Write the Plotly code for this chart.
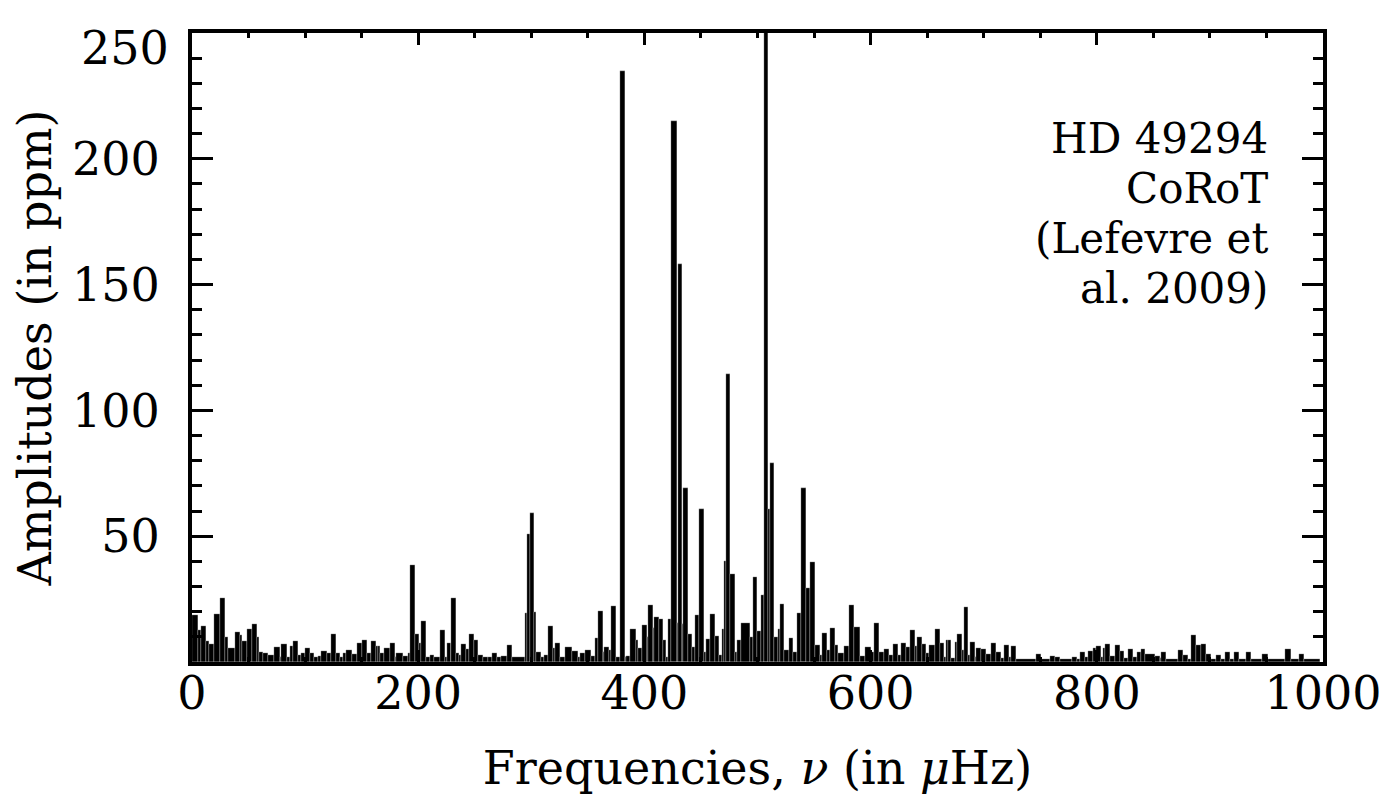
import numpy as np
import plotly.graph_objects as go

# Lower edge of each frequency bin (muHz) and amplitude in that bin (ppm)
freq_lo = [
    0.0, 5.3, 8.3, 12.7, 14.7, 19.5, 25.0, 29.5, 31.8, 37.7, 42.1, 44.5, 48.6, 53.1, 57.5, 59.0,
    62.8, 67.2, 72.5, 77.5, 79.0, 84.0, 86.3, 89.3, 93.7, 96.7, 99.6, 104.6, 107.6, 111.4, 114.3,
    119.7, 123.2, 127.6, 130.6, 133.5, 136.5, 141.8, 146.2, 150.6, 155.0, 158.0, 162.4,
    164.5, 166.0, 169.8, 174.8, 179.2, 180.7, 186.6, 191.0, 193.1, 197.5, 200.5, 202.2, 206.6,
    210.2, 214.0, 219.6, 224.0, 225.5, 228.7, 229.3, 233.8, 235.8, 238.2, 242.6, 245.0, 249.4,
    252.9, 257.3, 261.8, 265.3, 269.7, 273.5, 278.8, 283.3, 294.2, 296.2, 298.6, 302.4, 304.5,
    308.9, 311.0, 314.8, 319.2, 320.7, 325.1, 329.5,
    335.9, 341.2, 342.7, 347.1, 352.4, 356.6, 358.9, 363.3, 364.2, 368.4, 370.7, 375.1, 378.7,
    382.5, 384.0, 387.5, 392.8, 394.3, 397.8, 402.2, 403.1, 407.5, 408.4, 412.6, 416.4, 419.3,
    420.8, 423.8, 428.5, 429.7, 433.2, 434.4, 438.5, 442.0, 445.0, 448.2, 452.6, 454.7, 457.6,
    462.1, 465.6, 468.6, 470.3, 472.4, 475.9, 479.8, 482.1, 485.6, 493.0, 496.0, 499.8,
    502.8, 505.4, 509.2, 510.7, 514.3, 518.1, 519.6, 523.4, 527.5, 531.3, 535.2, 538.7, 543.1,
    546.1, 550.5, 554.9, 557.0, 561.4, 564.4, 568.8, 571.1, 576.1, 580.6, 585.3, 590.3, 594.7,
    600.6, 602.7, 607.1, 611.8, 615.9, 619.8, 624.2, 626.5, 631.0, 635.1, 639.5, 641.3, 645.4,
    649.2, 651.3, 656.6, 661.0, 664.5, 666.3,
    668.4, 670.8, 674.3, 676.7, 680.8, 682.3, 686.1, 687.6, 692.0, 693.4, 697.9, 702.3, 706.7,
    711.1, 715.6, 717.9, 722.3, 723.8, 728.2, 746.5, 750.9, 758.9, 763.3, 767.7, 778.0, 782.4,
    784.8, 789.2, 792.2, 796.6, 799.0, 803.4, 805.4, 806.9, 811.3, 815.7, 820.2, 824.0, 827.5,
    832.0, 835.8,
    838.8, 842.9, 851.1, 855.6, 857.0, 861.4, 871.8, 876.2, 880.6, 883.6, 888.0, 891.8, 896.2,
    900.6, 905.7, 910.1, 913.0, 917.4, 921.3, 925.4, 932.2, 936.6, 946.3, 951.3, 966.7, 971.4,
    978.4, 983.2,
]
freq_end = 997.0

amplitude = [
    18.7, 12.7, 14.3, 8.2, 7.2, 19.0, 25.3, 10.1, 5.4, 12.0, 10.7, 8.4, 13.0, 15.2, 10.1, 4.1,
    3.4, 2.8, 5.8, 2.0, 7.0, 2.1, 6.4, 8.3, 2.8, 3.4, 5.7, 3.4, 1.8, 2.2, 4.5,
    3.7, 11.3, 3.7, 2.0, 3.4, 4.8, 3.2, 7.6, 8.7, 3.4, 8.3, 6.4,
    6.3, 3.7, 5.4, 7.4, 2.0, 3.4, 2.4, 3.7, 38.5, 11.3, 7.4, 16.4, 1.8,
    2.6, 1.8, 12.8, 1.8, 7.4, 12.0, 25.3, 3.4, 2.8, 7.1, 5.0, 11.0, 8.9,
    2.8, 1.8, 2.1, 3.4, 1.8, 2.4, 6.6, 1.8, 19.6, 50.8, 59.1, 20.0, 4.1,
    2.1, 2.8, 14.3, 5.4, 7.7, 2.1, 6.0,
    4.3, 1.8, 3.7, 4.8, 2.4, 9.6, 20.2, 4.1, 6.0, 4.8, 22.2, 1.8, 235.0,
    1.8, 2.4, 13.3, 8.9, 5.4, 14.9, 10.1, 22.8, 13.6, 17.7, 17.1, 8.9, 1.8,
    17.1, 215.0, 15.5, 158.0, 15.2, 69.0, 11.3, 5.8, 18.6, 61.0, 4.1, 9.3, 19.0,
    10.5, 2.8, 13.3, 40.2, 114.5, 34.9, 4.1, 8.7, 15.6, 10.1, 33.6, 12.3,
    26.8, 300.0, 61.0, 79.0, 9.8, 13.3, 23.2, 4.8, 9.6, 4.1, 19.3, 69.0, 29.5,
    39.6, 6.7, 2.8, 11.6, 4.8, 13.6, 6.7, 3.7, 6.4, 22.8, 14.0, 2.4, 6.0,
    4.1, 15.6, 4.1, 5.0, 2.8, 7.1, 2.8, 7.7, 6.0, 12.7, 6.4, 9.8, 7.1,
    3.4, 6.7, 13.0, 7.7, 2.1, 8.9,
    8.7, 1.5, 8.1, 11.1, 4.8, 21.7, 2.8, 8.1, 2.0, 5.4, 5.0, 3.0, 7.4,
    4.1, 1.5, 6.7, 1.8, 6.4, 1.0, 3.0, 1.0, 2.4, 1.9, 1.0, 2.1, 1.0,
    4.0, 2.0, 4.5, 5.7, 6.4, 2.0, 5.4, 7.0, 2.4, 6.7, 4.5, 1.5, 5.0,
    1.8, 4.1,
    5.0, 3.0, 2.4, 1.5, 4.1, 1.0, 4.8, 2.8, 1.3, 10.7, 6.7, 7.0, 3.0,
    1.0, 2.9, 1.0, 4.0, 1.0, 4.1, 1.0, 3.8, 1.0, 3.0, 1.0, 5.2, 1.0,
    3.0, 1.0,
]

x_ticks = [0, 200, 400, 600, 800, 1000]
y_ticks = [50, 100, 150, 200, 250]
label_lines = ["HD 49294", "CoRoT", "(Lefevre et", "al. 2009)"]
label_y = [207.9, 188.1, 168.3, 148.4]

edges = np.array(freq_lo + [freq_end])
centers = (edges[:-1] + edges[1:]) / 2
widths = np.diff(edges)

FONT = "DejaVu Serif"
FS = 46
FS_LABEL = 42

fig = go.Figure()
fig.add_trace(go.Bar(
    x=centers, y=amplitude, width=widths,
    marker=dict(color="black", line=dict(color="white", width=0.25)),
    showlegend=False,
))

axis_common = dict(
    showline=True, linecolor="black", linewidth=4, mirror="ticks",
    ticks="inside", tickcolor="black", tickwidth=3,
    showgrid=False, zeroline=False,
    tickfont=dict(family=FONT, size=FS, color="black"),
)

fig.update_xaxes(
    range=[0, 1000], tickvals=x_ticks, ticklen=12,
    minor=dict(dtick=50, ticklen=5, tickwidth=3, ticks="inside", tickcolor="black"),
    title=dict(text="Frequencies, <i>ν</i> (in <i>μ</i>Hz)", font=dict(family=FONT, size=FS, color="black"), standoff=34),
    ticklabelstandoff=-12,
    **axis_common,
)
fig.update_yaxes(
    range=[0, 250], tickvals=y_ticks, ticktext=[str(v) for v in y_ticks[:-1]] + [""], ticklen=21,
    minor=dict(dtick=10, ticklen=10, tickwidth=3, ticks="inside", tickcolor="black"),
    title=dict(text="Amplitudes (in ppm)", font=dict(family=FONT, size=FS, color="black"), standoff=12),
    ticklabelstandoff=19,
    **axis_common,
)

fig.add_annotation(
    xref="paper", yref="y", x=0, y=244, xanchor="right", yanchor="middle", xshift=-21,
    text=str(y_ticks[-1]), showarrow=False, font=dict(family=FONT, size=FS, color="black"),
)
for t, yy in zip(label_lines, label_y):
    fig.add_annotation(
        xref="x", yref="y", x=953, y=yy, xanchor="right", yanchor="middle",
        text=t, showarrow=False, font=dict(family=FONT, size=FS_LABEL, color="black"),
    )

# The page adds an 8 px body margin, so the figure is sized and offset to compensate.
fig.update_layout(
    width=1379, height=801,
    margin=dict(l=184, r=64, t=25, b=147, autoexpand=False),
    paper_bgcolor="white", plot_bgcolor="white",
    bargap=0,
)

fig.write_html("out.html")
